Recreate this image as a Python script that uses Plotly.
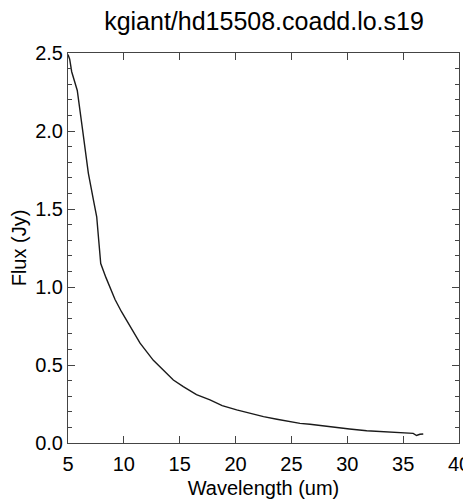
import plotly.graph_objects as go

# spectrum
wavelength = [5.0, 5.15, 5.33, 5.83, 6.3, 6.82, 7.27, 7.57, 7.75, 7.93, 8.4, 8.85,
              9.21, 9.8, 10.55, 11.45, 12.64, 13.53, 14.43, 15.32, 16.5, 17.71,
              18.8, 20.1, 21.3, 22.5, 23.7, 24.87, 25.77, 26.66, 27.7, 28.75,
              30.2, 31.74, 33.2, 34.72, 35.5, 35.9, 36.2, 36.5, 36.8]
flux = [2.49, 2.46, 2.38, 2.26, 2.01, 1.73, 1.56, 1.45, 1.30, 1.15, 1.06, 0.98,
        0.92, 0.84, 0.745, 0.64, 0.53, 0.468, 0.404, 0.361, 0.31, 0.276,
        0.24, 0.212, 0.19, 0.169, 0.152, 0.137, 0.126, 0.12, 0.11, 0.10,
        0.09, 0.079, 0.072, 0.065, 0.063, 0.062, 0.048, 0.056, 0.058]

title = "kgiant/hd15508.coadd.lo.s19"
fnt = "Liberation Sans, Arial, sans-serif"

# the page body has an 8px margin, so the figure is made 8px smaller
W, H = 463, 492

fig = go.Figure()
fig.add_trace(go.Scatter(x=wavelength, y=flux, mode="lines",
                         line=dict(color="#1a1a1a", width=1.4),
                         showlegend=False))

axis_common = dict(showgrid=False, zeroline=False, showline=True, automargin=False,
                   linecolor="#444444", linewidth=1, mirror="allticks",
                   ticks="inside", ticklen=7, tickcolor="#444444",
                   tickfont=dict(family=fnt, size=20, color="black"))

fig.update_xaxes(range=[5, 40], dtick=5, tick0=5, ticklabelstandoff=3,
                 title=dict(text="Wavelength (um)", font=dict(family=fnt, size=20, color="black"),
                            standoff=6),
                 **axis_common)
fig.update_yaxes(range=[0, 2.5], dtick=0.5, tickformat=".1f",
                 minor=dict(dtick=0.1, ticks="inside", ticklen=4, tickcolor="#444444"),
                 title=dict(text="Flux (Jy)", font=dict(family=fnt, size=20, color="black"),
                            standoff=11),
                 **axis_common)

fig.update_layout(
    width=W, height=H,
    margin=dict(l=60, r=12, t=45, b=57),
    paper_bgcolor="white", plot_bgcolor="white",
    title=dict(text=title, x=256 / W, xanchor="center", y=1 - 4 / H, yanchor="top",
               font=dict(family=fnt, size=25, color="black")),
)

fig.write_html("out.html")
